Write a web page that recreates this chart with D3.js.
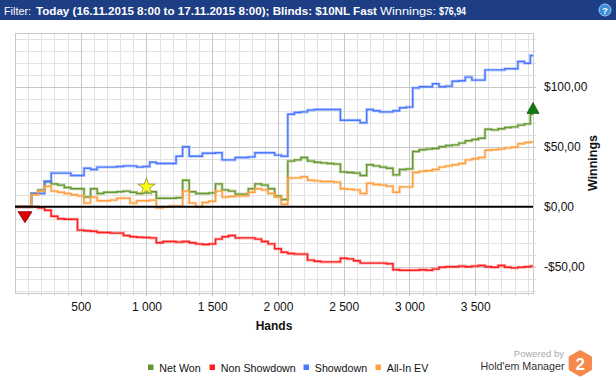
<!DOCTYPE html>
<html><head><meta charset="utf-8">
<script src="https://cdn.jsdelivr.net/npm/d3@7"></script>
<style>html,body{margin:0;padding:0;background:#fff;}svg{display:block;}</style>
</head><body>
<svg id="chart" width="616" height="380"></svg>
<script>
// ---------- data ----------
const hands = d3.range(0, 3901, 50).concat([3940]);
const netWon = [0,0,0,11,14,21,19,18,16,15,15,8,15,11,12,12,12.5,13,12,11,11.5,12.5,7,7,7,7.5,22,12.5,11,11,11.5,19,14,13,10.5,10.5,15,19,18,15,9,6,38,39,41,38,37,36.5,36,35.5,29,28.5,28,26,35,34,33,32,26.5,31,31.5,46,47.5,48,48.5,50,51,51.5,53,55,56,57,64.5,64,65,66,66.5,68,69,76.94];
const nonShowdown = [0,0,0,0,-1,-3,-8,-10,-10.5,-10.5,-19.5,-20,-20.5,-21.5,-21.5,-22,-22,-24,-25,-25.5,-25.7,-26,-30,-29,-29,-29.5,-29,-30,-31,-31.5,-31,-27,-25,-24,-26,-26,-26,-27,-29,-31,-35,-38,-39,-39.5,-39.5,-44.5,-45.5,-46,-46,-46,-43,-43.5,-45,-47,-47,-47,-47,-47.5,-52.5,-53,-53,-53,-52.5,-53,-52,-50.5,-50,-50,-49.5,-50,-49.5,-49,-50,-50.5,-49,-50.5,-51,-50.5,-50,-49.5];
const showdown = [0,0,0,11,11,21,28,28,28,26,26,32,31,33,33,33,33.5,34,34,33,33.5,37,36,36,36,42,50,42,42,44.5,44.5,45,39,39,41,41,41.5,45,45,45,43,42,77,78.5,79,80.5,81,81,81,81,72,72,72,70,81,80,79,79,80,82.5,83,99,100,100,102.5,100,100.5,104.5,105,108,105.5,105.5,114,114,114,115,115,121,119.5,126];
const allInEV = [0,0,0,10,13,17,13,12,11,10,9,3,8,5,5,5.5,7,7,3,5,5,5.5,-1,0,0.5,0.5,13,3,0,3.5,4.5,13,8,8.5,9,9,12,15,14,11,8,2,24,24,25,22,21.5,21,21,20.5,15,14.5,14,11,19.5,18.5,18,17,12,16.5,16.5,28.5,29.5,30,31,33,34,35,36,39,40,41,47,47.5,48,49,49.5,52.5,53.5,54];
const seriesNames = ["Net Won","Non Showdown","Showdown","All-In EV"];
const seriesColors = ["#67982f","#ff1c1c","#4a78ff","#ffa040"];
const seriesValues = [netWon, nonShowdown, showdown, allInEV];
const yTicks = [-50, 0, 50, 100];
const xTicks = [500, 1000, 1500, 2000, 2500, 3000, 3500];
const minMarker = {hand: 76, value: 0};
const starMarker = {hand: 1000, value: 16.5};
const titleParts = [
  {t:"Filter:", bold:false},
  {t:"Today (16.11.2015 8:00 to 17.11.2015 8:00); Blinds: $10NL Fast", bold:true},
  {t:"Winnings:", bold:false},
  {t:"$76,94", bold:true}
];

// ---------- layout ----------
const svg = d3.select("#chart");
const W = 616, H = 380;
const plot = {l:15, r:533, t:33, b:293};
const x = d3.scaleLinear().domain([0, 3940]).range([plot.l, plot.r]);
const y = d3.scaleLinear().domain([-71.9, 144.75]).range([plot.b, plot.t]);
const loc = d3.formatLocale({decimal:",", thousands:" ", grouping:[3], currency:["$",""], minus:"-"});
const fmtY = loc.format("$,.2f");
const fmtX = loc.format(",d");
const FONT = "Liberation Sans, Arial, sans-serif";

// title bar
svg.append("rect").attr("x",0).attr("y",0).attr("width",W).attr("height",20).attr("fill","#1d3e85");
const titleX = [4, 36, 380, 439];
const titleLen = [27, 341, 56, 27];
const titleSize = [11.5, 11, 11.5, 11.5];
titleParts.forEach((p,i)=>{
  svg.append("text").attr("x",titleX[i]).attr("y",14.5)
    .attr("font-family",FONT).attr("font-size",titleSize[i])
    .attr("font-weight",p.bold?"bold":"normal").attr("fill","#fff")
    .attr("textLength",titleLen[i]).attr("lengthAdjust","spacingAndGlyphs").text(p.t);
});
// help icon
const help = svg.append("g").attr("transform","translate(605,10)");
help.append("circle").attr("r",6).attr("fill","#3b8fd9").attr("stroke","#9fc9f0").attr("stroke-width",1);
help.append("text").attr("y",3.5).attr("text-anchor","middle").attr("font-family",FONT).attr("font-size",9).attr("font-weight","bold").attr("fill","#fff").text("?");

// grid
const g = svg.append("g");
const minorY = d3.range(-70, 141, 10).filter(v => v % 50 !== 0);
const majorY = yTicks.filter(v => v !== 0);
const minorX = d3.range(100, 3901, 100).filter(v => v % 500 !== 0);
g.selectAll(".mgy").data(minorY).join("line").attr("x1",plot.l).attr("x2",plot.r+3)
  .attr("y1",d=>Math.round(y(d))+0.5).attr("y2",d=>Math.round(y(d))+0.5).attr("stroke","#e2e2e2");
g.selectAll(".mgx").data(minorX).join("line").attr("y1",plot.t).attr("y2",plot.b+3)
  .attr("x1",d=>Math.round(x(d))+0.5).attr("x2",d=>Math.round(x(d))+0.5).attr("stroke","#e2e2e2");
g.selectAll(".Mgy").data(majorY).join("line").attr("x1",plot.l).attr("x2",plot.r+3)
  .attr("y1",d=>Math.round(y(d))+0.5).attr("y2",d=>Math.round(y(d))+0.5).attr("stroke","#c8c8c8");
g.selectAll(".Mgx").data(xTicks).join("line").attr("y1",plot.t).attr("y2",plot.b+3)
  .attr("x1",d=>Math.round(x(d))+0.5).attr("x2",d=>Math.round(x(d))+0.5).attr("stroke","#c8c8c8");
// border
svg.append("rect").attr("x",plot.l+0.5).attr("y",plot.t+0.5).attr("width",plot.r-plot.l).attr("height",plot.b-plot.t)
  .attr("fill","none").attr("stroke","#c8c8c8");

// axes labels (right)
const yAxis = d3.axisRight(y).tickValues(yTicks).tickFormat(fmtY).tickSize(0).tickPadding(11);
const ya = svg.append("g").attr("transform",`translate(${plot.r},0)`).call(yAxis);
ya.select(".domain").remove();
ya.selectAll("text").attr("font-family",FONT).attr("font-size",12).attr("fill","#111");

const xAxis = d3.axisBottom(x).tickValues(xTicks).tickFormat(fmtX).tickSize(0).tickPadding(9);
const xa = svg.append("g").attr("transform",`translate(0,${plot.b})`).call(xAxis);
xa.select(".domain").remove();
xa.selectAll("text").attr("font-family",FONT).attr("font-size",12).attr("fill","#111");

svg.append("text").attr("x",(plot.l+plot.r)/2).attr("y",329.5).attr("text-anchor","middle")
  .attr("font-family",FONT).attr("font-size",12).attr("font-weight","bold").attr("fill","#111").text("Hands");
svg.append("text").attr("transform",`translate(597,${(plot.t+plot.b)/2}) rotate(-90)`).attr("text-anchor","middle")
  .attr("font-family",FONT).attr("font-size",12.5).attr("font-weight","bold").attr("fill","#111").text("Winnings");

// series
const line = d3.line().x((d,i)=>x(hands[i])).y(d=>y(d)).curve(d3.curveStep);
svg.append("clipPath").attr("id","clp").append("rect")
  .attr("x",plot.l).attr("y",plot.t).attr("width",plot.r-plot.l+1).attr("height",plot.b-plot.t);
const sg = svg.append("g").attr("clip-path","url(#clp)");
seriesValues.forEach((vals,i)=>{
  sg.append("path").attr("d",line(vals)).attr("fill","none").attr("stroke",seriesColors[i]).attr("stroke-opacity",0.35).attr("stroke-width",3);
  sg.append("path").attr("d",line(vals)).attr("fill","none").attr("stroke",seriesColors[i]).attr("stroke-width",1.4);
});
// zero line
svg.append("line").attr("x1",plot.l).attr("x2",plot.r).attr("y1",y(0)).attr("y2",y(0)).attr("stroke","#000").attr("stroke-width",2);

// markers
const mx = x(minMarker.hand), my = y(minMarker.value);
svg.append("path").attr("d",`M${mx-7},${my+5} L${mx+7},${my+5} L${mx},${my+16} Z`)
  .attr("fill","#e00000").attr("stroke","#8a0000").attr("stroke-width",0.8);
const ex = x(hands[hands.length-1]), ey = y(netWon[netWon.length-1]);
svg.append("path").attr("d",`M${ex-6},${ey-1} L${ex+6},${ey-1} L${ex},${ey-12} Z`)
  .attr("fill","#107a10").attr("stroke","#0a5a0a").attr("stroke-width",0.8);
const star = d3.symbol().type(d3.symbolStar).size(95);
svg.append("path").attr("d",star()).attr("transform",`translate(${x(starMarker.hand)},${y(starMarker.value)})`)
  .attr("fill","#ffff10").attr("stroke","#8a8a50").attr("stroke-width",0.8);

// legend
const legX = [148, 209.5, 303.5, 375.5];
const legLen = [41.4, 75, 52.3, 41.6];
seriesNames.forEach((n,i)=>{
  svg.append("rect").attr("x",legX[i]).attr("y",364.5).attr("width",5.5).attr("height",5.5).attr("fill",seriesColors[i]);
  svg.append("text").attr("x",legX[i]+11.3).attr("y",372).attr("font-family",FONT)
    .attr("font-size",11.5).attr("fill","#111").attr("textLength",legLen[i]).attr("lengthAdjust","spacingAndGlyphs").text(n);
});

// logo
svg.append("text").attr("x",564).attr("y",357).attr("text-anchor","end").attr("font-family",FONT).attr("font-size",9.5).attr("fill","#aaa").text("Powered by");
svg.append("text").attr("x",564.5).attr("y",369.5).attr("text-anchor","end").attr("font-family",FONT).attr("font-size",11.5).attr("fill","#333")
  .attr("textLength",84).attr("lengthAdjust","spacingAndGlyphs").text("Hold'em Manager");
const hex = d3.range(6).map(k=>{const a=Math.PI/3*k - Math.PI/2; return [580.3+12.3*Math.cos(a), 363.3+12.3*Math.sin(a)];});
svg.append("path").attr("d","M"+hex.join("L")+"Z").attr("fill","#f58a4a").attr("stroke","#f58a4a").attr("stroke-width",2).attr("stroke-linejoin","round");
svg.append("text").attr("x",580.3).attr("y",369.5).attr("text-anchor","middle").attr("font-family",FONT).attr("font-size",17).attr("font-weight","bold").attr("fill","#fff").text("2");
</script>
</body></html>
